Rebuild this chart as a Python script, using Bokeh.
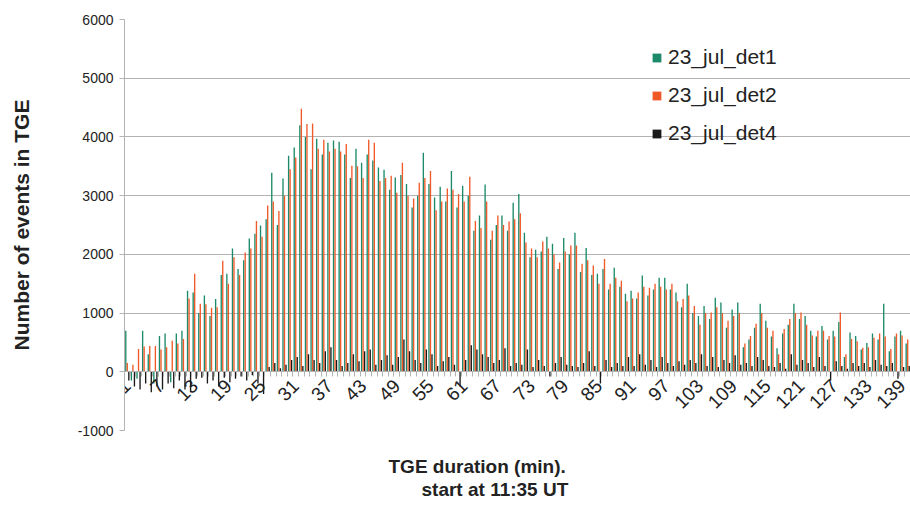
from math import pi

from bokeh.embed import file_html
from bokeh.models import (ColumnDataSource, FixedTicker, Legend, LegendItem,
                          PrintfTickFormatter, Title)
from bokeh.plotting import figure
from bokeh.resources import INLINE
from bokeh.transform import dodge

# Minutes since the start of the TGE (11:35 UT)
minutes = list(range(1, 141))

det1 = [
    700, -150, -120, 700, 300, -200, 610, 650, -180, 650,
    700, 1380, 1350, 1000, 1300, 950, 1240, 1650, 1670, 2100,
    1750, 1900, 2270, 2350, 2490, 2600, 3390, 2500, 3290, 3680,
    3820, 4200, 4000, 3450, 3970, 3700, 3900, 3940, 3920, 3700,
    3300, 3800, 3560, 3700, 3600, 3480, 3440, 3100, 3310, 3350,
    3200, 2800, 3000, 3730, 3200, 2970, 3150, 2900, 3420, 2800,
    3170, 3000, 2400, 2660, 3190, 2250, 2500, 2660, 2400, 2880,
    3030, 2370, 1950, 2080, 2050, 2300, 2180, 1750, 2280, 2000,
    2370, 1700, 2110, 1650, 1670, 1750, 1400, 1770, 1450, 1330,
    1380, 1250, 1640, 1300, 1400, 1600, 1600, 1400, 1350, 1100,
    1500, 1000, 950, 1120, 900, 1260, 1180, 750, 1060, 1180,
    420, 550, 750, 1160, 870, 600, 400, 650, 800, 1160,
    900, 950, 700, 600, 780, 550, 700, 850, 250, 670,
    610, 380, 490, 650, 550, 1160, 350, 600, 700, 480,
]

det2 = [
    150, 120, 390, 430, 440, 440, 380, 420, 530, 480,
    560, 1250, 1670, 1160, 1150, 1090, 1100, 1890, 1500, 1950,
    1650, 2030, 2100, 2570, 2300, 2830, 2900, 2740, 3000, 3450,
    3650, 4480, 4220, 4230, 3800, 3950, 3750, 3800, 3750, 3880,
    3510, 3500, 3300, 3950, 3900, 3250, 3300, 3340, 3050, 3560,
    3000, 2950, 3220, 3300, 3420, 2750, 2900, 3120, 3100, 3030,
    2900, 3320, 2570, 2450, 2900, 2400, 2660, 2500, 2560, 2600,
    2700, 2200, 2100, 1950, 2220, 2100, 2000, 1860, 2050, 2150,
    2150, 1840, 1900, 1810, 1500, 1920, 1500, 1600, 1550, 1200,
    1250, 1350, 1450, 1430, 1500, 1450, 1400, 1500, 1200, 1240,
    1300, 1120, 800, 1000, 1010, 1100, 1000, 870, 950, 1000,
    480, 610, 820, 1000, 750, 700, 300, 730, 900, 1000,
    1010, 800, 620, 700, 700, 610, 600, 1010, 300, 560,
    520, 410, 420, 580, 650, 600, 390, 650, 620, 550,
]

det4 = [
    -150, -250, -300, -200, -350, -250, -300, -200, -280, -150,
    -300, -350, -120, -100, -200, -150, -250, -100, -180, -120,
    -80, -150, -60, -200, -380, 80, 150, 60, 120, 200,
    250, 100, 300, 200, 150, 350, 420, 200, 100, 150,
    300, 180, 350, 380, 120, 200, 280, 120, 250, 550,
    350, 200, 150, 380, 300, 100, 180, 250, 120, -250,
    200, 450, 380, 300, 250, 150, 200, 400, 100, 150,
    120, 380, 80, 200, 100, -80, 150, 250, 120, 100,
    80, 150, 350, 100, -200, 200, 80, 150, 100, 250,
    100, 300, 120, 200, 80, 250, 150, 100, 180, 120,
    200, 150, 300, 100, 250, 80, 200, 150, 280, 120,
    150, 100, 250, 200, 100, 80, 150, 50, 300, 120,
    200, 150, 80, 250, 100, -150, 180, 100, 50, 150,
    100, 150, 80, 200, 120, 100, 150, -120, 80, 100,
]

series_names = ["23_jul_det1", "23_jul_det2", "23_jul_det4"]
series_colors = ["#1c8a6a", "#f05a28", "#1a1a1a"]
label_ticks = list(range(1, 141, 6))
y_ticks = [-1000, 0, 1000, 2000, 3000, 4000, 5000, 6000]

source = ColumnDataSource(dict(minute=minutes, det1=det1, det2=det2, det4=det4))

FONT = "Liberation Sans"

p = figure(
    width=910, height=508,
    x_range=(0.5, 140.5), y_range=(-1000, 6000),
    output_backend="svg", toolbar_location=None,
    min_border_left=124, min_border_right=0,
    min_border_top=19, min_border_bottom=78,
)
p.outline_line_color = None
p.background_fill_color = "white"
p.border_fill_color = "white"

renderers = []
bar_w = 0.24
for key, offset, color in zip(["det1", "det2", "det4"], [-0.27, 0.0, 0.27], series_colors):
    r = p.vbar(x=dodge("minute", offset), top=key, width=bar_w, bottom=0,
               source=source, fill_color=color, line_color=None)
    renderers.append(r)

# grid
p.xgrid.grid_line_color = None
p.ygrid.grid_line_color = "#b3b3b3"
p.ygrid.grid_line_width = 1
p.ygrid.ticker = FixedTicker(ticks=y_ticks)

# y axis
p.yaxis.ticker = FixedTicker(ticks=y_ticks)
p.yaxis.formatter = PrintfTickFormatter(format="%d")
p.yaxis.axis_line_color = "#b3b3b3"
p.yaxis.major_tick_line_color = "#b3b3b3"
p.yaxis.major_tick_out = 5
p.yaxis.major_tick_in = 0
p.yaxis.minor_tick_line_color = None
p.yaxis.major_label_text_font = FONT
p.yaxis.major_label_text_font_size = "14px"
p.yaxis.major_label_text_color = "#222222"
p.yaxis.major_label_standoff = 6
p.yaxis.axis_label = "Number of events in TGE"
p.yaxis.axis_label_text_font = FONT
p.yaxis.axis_label_text_font_size = "21px"
p.yaxis.axis_label_text_font_style = "bold"
p.yaxis.axis_label_text_color = "#222222"
p.yaxis.axis_label_standoff = 42

# x axis crosses at zero, slanted labels
p.xaxis.fixed_location = 0
p.xaxis.ticker = FixedTicker(ticks=label_ticks,
                             minor_ticks=[m + 0.5 for m in range(0, 141)])
p.xaxis.axis_line_color = "#b3b3b3"
p.xaxis.major_tick_out = 0
p.xaxis.major_tick_in = 0
p.xaxis.minor_tick_out = 5
p.xaxis.minor_tick_in = 0
p.xaxis.minor_tick_line_color = "#b3b3b3"
p.xaxis.major_label_orientation = pi / 4
p.xaxis.major_label_text_font = FONT
p.xaxis.major_label_text_font_size = "19px"
p.xaxis.major_label_text_color = "#222222"
p.xaxis.major_label_standoff = 6

# x axis title, two lines under the plot area (a blank title first for spacing)
p.add_layout(Title(text=" ", text_font_size="1px", standoff=20), "below")
for text, off, stand in [("TGE duration (min).", 264, 0), ("start at 11:35 UT", 297, 0)]:
    p.add_layout(Title(text=text, align="left", offset=off, standoff=stand,
                       text_font=FONT, text_font_size="19px", text_font_style="bold",
                       text_color="#222222"), "below")

legend = Legend(
    items=[LegendItem(label=n, renderers=[r]) for n, r in zip(series_names, renderers)],
    location=(517, 275),
    background_fill_alpha=0, border_line_alpha=0,
    glyph_width=11, glyph_height=11, label_height=24, spacing=14,
    label_standoff=6, padding=10, margin=0,
    label_text_font=FONT, label_text_font_size="21px", label_text_color="#222222",
)
p.add_layout(legend)

open("out.html", "w").write(file_html(p, INLINE))
